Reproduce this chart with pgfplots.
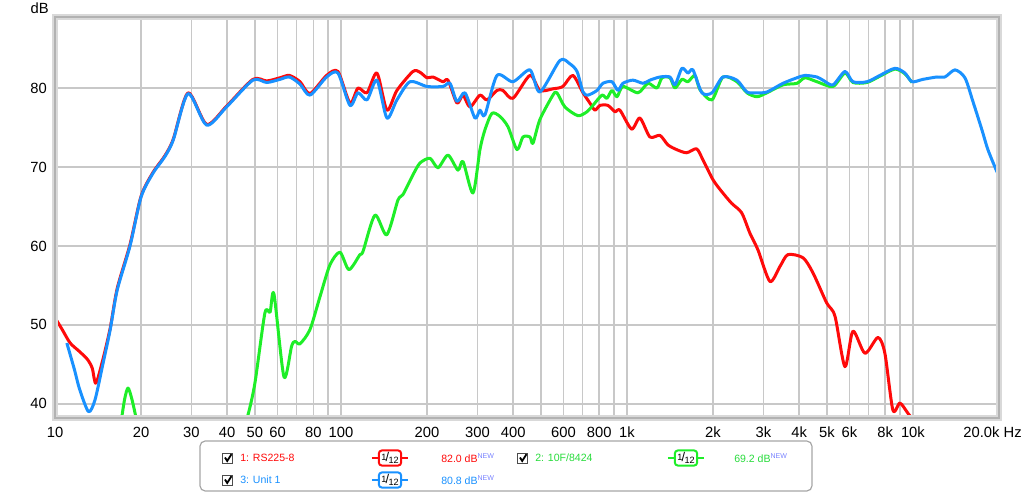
\documentclass[border=0pt]{standalone}
\usepackage{pgfplots}
\pgfplotsset{compat=1.18}
\usepackage{fontspec}
\setmainfont{Liberation Sans}
\definecolor{cred}{RGB}{255,10,10}
\definecolor{cgreen}{RGB}{30,238,40}
\definecolor{cblue}{RGB}{25,145,255}
\definecolor{lgreen}{RGB}{40,220,60}
\definecolor{newcol}{RGB}{120,130,255}
\definecolor{gridc}{RGB}{200,200,200}
\newcommand{\oneTwelve}{{\fontsize{6.5}{6.5}\selectfont\raisebox{1.3pt}{1}\kern-0.6pt\raisebox{0.2pt}{\fontsize{9}{9}\selectfont/}\kern-0.4pt\raisebox{-1.2pt}{12}}}
\newcommand{\NEW}{\raisebox{3pt}{\fontsize{5}{5}\selectfont\color{newcol}NEW}}
\begin{document}
\begin{tikzpicture}
\useasboundingbox (0,0) rectangle (256mm,123.75mm);
\begin{semilogxaxis}[
  at={(13.75mm,19.25mm)}, anchor=south west,
  scale only axis, width=236mm, height=100.25mm,
  xmin=10, xmax=20000, ymin=38.2, ymax=89,
  xtick={10,20,30,40,50,60,70,80,90,100,200,300,400,500,600,700,800,900,1000,2000,3000,4000,5000,6000,7000,8000,9000,10000,20000},
  xticklabels={10,20,30,40,50,60,{},80,{},100,200,300,400,{},600,{},800,{},1k,2k,3k,4k,5k,6k,{},8k,{},10k,{}},
  ytick={40,50,60,70,80},
  yticklabels={40,50,60,70,80},
  minor xtick={},
  grid=major,
  major grid style={gridc, line width=0.38mm},
  tick style={draw=none},
  axis line style={draw=none},
  xticklabel style={font=\fontsize{10.5}{12}\selectfont, anchor=north, inner sep=0pt, yshift=-2.25mm},
  yticklabel style={font=\fontsize{10.5}{12}\selectfont, anchor=east, inner sep=0pt, xshift=-2mm},
  every axis plot/.append style={line width=0.75mm, smooth, tension=0.45, line join=round},
]
% 1: RS225-8 (red)
\addplot[cred] coordinates {
(10.0,50.9)(10.6,49.4)(11.3,47.7)(12.2,46.6)(13.0,45.6)(13.5,44.5)(13.9,42.6)(14.7,45.6)(15.6,49.6)(16.5,54.6)
(18.3,60.2)(20.0,66.3)(22.0,69.3)(24.2,71.4)(25.9,73.5)(29.2,79.4)(33.9,75.4)(39.8,77.7)(49.2,81.1)(55.0,80.9)
(61.2,81.3)(66.0,81.6)(71.9,80.8)(77.9,79.3)(89.1,81.6)(97.6,82.1)(107.5,78.1)(114.7,80.0)(123.3,79.4)(133.6,81.9)
(144.8,77.2)(156.9,79.7)(178.5,82.1)(188.9,82.0)(199.9,81.3)(209.7,81.4)(227.3,80.8)(236.7,81.0)(254.4,78.1)(267.1,79.1)
(282.5,77.6)(306.2,79.1)(323.9,78.5)(351.2,79.7)(368.5,79.7)(399.4,78.7)(458,81.6)(496,79.7)(551,79.9)(597,80.2)
(647,81.6)(702,79.4)(742,78.1)(773,77.2)(805,77.8)(858,77.8)(908,77.0)(945,77.2)(1038,74.8)(1110,76.2)
(1203,73.8)(1304,74.0)(1391,72.8)(1492,72.2)(1617,71.8)(1752,72.3)(1844,70.9)(1998,68.4)(2143,66.9)(2323,65.4)
(2518,64.2)(2692,61.6)(2871,59.5)(3162,55.5)(3428,57.4)(3655,58.9)(4125,58.5)(4470,56.6)(4990,52.8)(5338,51.1)
(5784,44.7)(6170,49.2)(6796,46.4)(7544,48.4)(7980,46.4)(8510,39.2)(9006,40.1)(9605,38.8)(10000,38.0)
};
% 2: 10F/8424 (green)
\addplot[cgreen] coordinates {
(17.0,37.5)(17.5,40.5)(18.0,42.0)(18.6,40.5)(19.4,37.5)
};
\addplot[cgreen] coordinates {
(45.8,37.5)(47.3,38.6)(50.0,42.6)(54.2,51.5)(56.5,51.6)(58.3,53.9)(63.2,43.4)(67.2,47.3)(69.1,47.9)(71.9,47.6)
(77.9,49.4)(84.5,53.6)(91.5,57.6)(99.2,59.2)(106.6,57.0)(116.5,58.9)(119.4,59.3)(131.5,63.9)(144.5,61.4)(158.2,65.8)
(164.7,66.5)(178.5,69.0)(188.9,70.5)(204.7,71.1)(218.4,69.9)(236.7,71.5)(256.5,69.6)(267.1,70.7)(289.4,66.7)(306.2,72.2)
(318.7,74.7)(337.3,76.8)(359.7,76.4)(383.7,75.1)(412.5,72.2)(432.9,73.8)(458,73.8)(469.1,73.0)(496,76.0)(551,79.1)
(569,79.4)(607,77.6)(674,76.5)(725,77.0)(760,77.8)(818,79.1)(851,78.7)(886,79.7)(923,78.9)(968,80.2)
(1093,79.4)(1184,80.6)(1273,80.0)(1326,81.3)(1414,81.3)(1472,80.0)(1557,81.1)(1634,80.8)(1729,81.6)(1800,79.8)
(1983,78.5)(2166,81.4)(2424,80.8)(2627,79.4)(2848,78.9)(3086,79.4)(3512,80.4)(3930,80.6)(4193,81.3)(4617,80.8)
(5252,80.2)(5784,81.9)(6170,80.7)(6907,80.7)(7666,81.5)(8650,82.4)(9376,81.8)(9920,80.7)
};
% 3: Unit 1 (blue)
\addplot[cblue] coordinates {
(11.0,47.7)(11.7,44.3)(12.2,41.8)(13.1,39.0)(13.8,40.5)(14.7,45.0)(15.6,49.4)(16.5,54.4)(18.3,60.0)(20.0,66.2)
(22.0,69.2)(24.2,71.3)(25.9,73.4)(29.2,79.3)(33.9,75.3)(39.8,77.6)(49.2,81.0)(55.0,80.7)(61.2,81.1)(66.0,81.4)
(71.9,80.5)(77.9,79.1)(89.1,81.4)(97.6,81.9)(107.5,77.8)(114.7,79.4)(123.3,78.5)(133.6,81.0)(144.8,76.2)(156.9,78.5)
(174.3,80.8)(199.9,80.2)(227.3,80.2)(240.5,80.6)(254.4,78.3)(271.4,79.4)(294.1,76.2)(306.2,77.2)(318.7,76.6)(351.2,81.6)
(399.4,80.8)(458,82.3)(496,79.5)(583,83.5)(630,83.1)(669,82.1)(702,79.5)(730,79.1)(786,79.7)(824,80.6)
(886,80.8)(930,79.7)(968,80.6)(1049,81.0)(1138,80.6)(1203,81.0)(1304,81.4)(1414,81.4)(1472,80.4)(1557,82.5)
(1634,81.9)(1701,82.3)(1829,79.4)(1983,79.4)(2166,81.4)(2424,81.0)(2627,79.5)(2848,79.4)(3086,79.5)(3512,80.6)
(3930,81.3)(4193,81.6)(4617,81.4)(4844,81.0)(5252,80.4)(5784,82.1)(6170,80.8)(6907,80.8)(7666,81.6)(8650,82.5)
(9376,81.9)(9920,80.8)(10840,81.1)(12130,81.4)(12940,81.4)(14030,82.3)(15200,81.3)(16210,78.3)(17430,74.7)(18290,72.2)
(19670,69.4)(20000,69.0)
};
\end{semilogxaxis}
\begin{scope}[x=0.25mm,y=0.25mm]
% frame
\draw[gray!30, line width=1.5mm] (55,77) rectangle (999,478);
\draw[gray!60, line width=0.7mm] (55,77) rectangle (999,478);
% axis texts
\node[anchor=east, inner sep=0pt, font=\fontsize{10.5}{12}\selectfont] at (49,487) {dB};
\node[anchor=east, inner sep=0pt, font=\fontsize{10.5}{12}\selectfont] at (1022,63) {20.0k Hz};
% legend
\draw[gray!70, line width=0.3mm, rounded corners=1.3mm, fill=white] (200,4) rectangle (812,54);
\foreach \cx/\cy in {228/37, 228/15, 523/37}{
  \draw[black!70, line width=0.25mm, fill=white] (\cx-5,\cy-5) rectangle (\cx+5,\cy+5);
  \draw[black, line width=0.45mm] (\cx-3,\cy+0.5) -- (\cx-0.8,\cy-3) -- (\cx+3.5,\cy+3.8);
}
\begin{scope}[every node/.style={font=\fontsize{7.5}{9}\selectfont, inner sep=0pt}]
\node[anchor=west, text=cred] at (240,37) {1: RS225-8};
\node[anchor=west, text=cblue] at (240,15) {3: Unit 1};
\node[anchor=west, text=lgreen] at (535,37) {2: 10F/8424};
\node[anchor=west, text=cred] at (441,37) {82.0 dB\NEW};
\node[anchor=west, text=cblue] at (441,15) {80.8 dB\NEW};
\node[anchor=west, text=lgreen] at (734,37) {69.2 dB\NEW};
\end{scope}
\foreach \sx/\sy/\sc in {390/37/cred, 390/15/cblue, 686/37/cgreen}{
  \draw[\sc, line width=0.5mm] (\sx-18,\sy) -- (\sx+18,\sy);
  \node[draw=\sc, fill=white, line width=0.5mm, rounded corners=0.8mm, minimum width=5.6mm, minimum height=3.8mm, inner sep=0pt] at (\sx,\sy) {\oneTwelve};
}
\end{scope}
\end{tikzpicture}
\end{document}
